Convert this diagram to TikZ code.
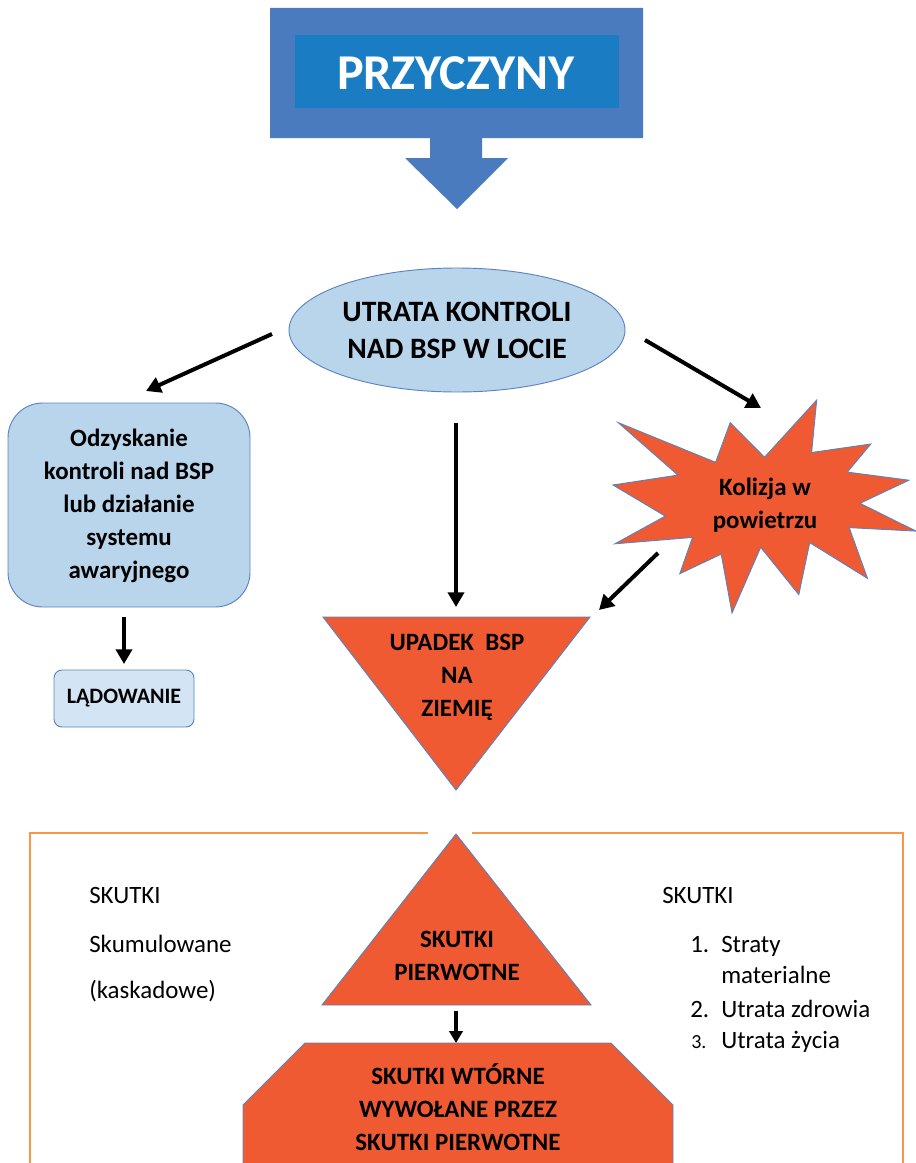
\documentclass[tikz,border=0pt]{standalone}
\usepackage{fontspec}
\setmainfont{Carlito}
\usetikzlibrary{arrows.meta,shapes.geometric}

\definecolor{hdrouter}{HTML}{4A7BBE}
\definecolor{hdrinner}{HTML}{1A7DC3}
\definecolor{paleblue}{HTML}{B8D5EC}
\definecolor{paleblue2}{HTML}{D3E5F4}
\definecolor{edgeblue}{HTML}{5B84BF}
\definecolor{hotred}{HTML}{EF5A32}
\definecolor{frameorange}{HTML}{F79646}

\tikzset{
  boldlbl/.style={align=center, font=\bfseries\fontsize{18.7}{24.75}\selectfont, text=black, inner sep=0pt},
  plainlbl/.style={font=\fontsize{18.7}{24}\selectfont, text=black, inner sep=0pt},
  flowarrow/.style={line width=3pt, -{Triangle[length=11pt,width=12pt]}},
  shortarrow/.style={line width=2.4pt, -{Triangle[length=9pt,width=10pt]}},
  hotshape/.style={fill=hotred, draw=edgeblue, line width=0.7pt, line join=miter},
}

\begin{document}
\begin{tikzpicture}[x=0.75pt, y=-0.75pt]
\useasboundingbox (0,0) rectangle (916,1163);

% header block with downward arrow
\fill[hdrouter] (270,8) -- (643,8) -- (643,138) -- (482,138) -- (482,158) -- (508,158)
  -- (457,209) -- (405,158) -- (430,158) -- (430,138) -- (270,138) -- cycle;
\fill[hdrinner] (295,35) rectangle (619,108);
\node[font=\bfseries\fontsize{37.6}{40}\selectfont, text=white, inner sep=0pt] (przyczyny) at (456,73) {PRZYCZYNY};

% central event
\node[ellipse, fill=paleblue, draw=edgeblue, line width=0.7pt,
      minimum width=252pt, minimum height=93pt, inner sep=0pt,
      align=center, font=\bfseries\fontsize{22.2}{27.75}\selectfont] (utrata) at (457,330)
      {UTRATA KONTROLI\\NAD BSP W LOCIE};

% recovery branch
\node[rounded corners=26pt, fill=paleblue, draw=edgeblue, line width=0.7pt,
      minimum width=181.5pt, minimum height=153pt, inner sep=0pt] (odzysk) at (129,505) {};
\node[boldlbl] (odzysktxt) at (129,506)
      {Odzyskanie\\kontroli nad BSP\\lub działanie\\systemu\\awaryjnego};
\node[rounded corners=6pt, fill=paleblue2, draw=edgeblue, line width=0.7pt,
      minimum width=105pt, minimum height=42.75pt, inner sep=0pt,
      font=\bfseries\fontsize{16.5}{20}\selectfont] (ladowanie) at (124,698.5) {LĄDOWANIE};

% mid-air collision (explosion outline)
\path[hotshape] (764.5,457.2) -- (816.7,400) -- (811.6,452.5) -- (870.8,444.0)
  -- (847.3,472.1) -- (908.9,480.2) -- (860.0,503.3) -- (916,531.1)
  -- (849.2,527.6) -- (867.5,578.4) -- (809.7,542.6) -- (798.8,594.6)
  -- (760.7,547.3) -- (732.0,613) -- (721.2,554.1) -- (679.8,573.7)
  -- (692.5,537.4) -- (614.9,543.8) -- (665.2,516.1) -- (613,485.0)
  -- (677.9,475.1) -- (618.2,422.6) -- (715.6,462.3) -- (730.2,422.6) -- cycle;
\node[boldlbl] (kolizja) at (765,505) {Kolizja w\\powietrzu};

% fall to the ground
\path[hotshape] (323,617) -- (590,617) -- (456,790) -- cycle;
\node[boldlbl] (upadek) at (457,677) {UPADEK~~BSP\\NA\\ZIEMIĘ};

% consequences frame
\draw[frameorange, line width=1.6pt] (30,1163) -- (30,833) -- (428,833);
\draw[frameorange, line width=1.6pt] (472,833) -- (903,833) -- (903,1163);

\path[hotshape] (456,834) -- (591,1005) -- (322,1005) -- cycle;
\node[boldlbl] (pierwotne) at (457,956) {SKUTKI\\PIERWOTNE};

\fill[hotred] (305,1043) -- (611,1043) -- (673,1105) -- (673,1163) -- (243,1163) -- (243,1105) -- cycle;
\draw[edgeblue, line width=0.7pt] (243,1163) -- (243,1105) -- (305,1043) -- (611,1043) -- (673,1105) -- (673,1163);
\node[boldlbl] (wtorne) at (458,1107) {SKUTKI WTÓRNE\\WYWOŁANE PRZEZ\\SKUTKI PIERWOTNE};

% side notes
\node[plainlbl, anchor=base west] (lsk) at (89,903) {SKUTKI};
\node[plainlbl, anchor=base west] (lskum) at (89,952) {Skumulowane};
\node[plainlbl, anchor=base west] (lkask) at (89,998) {(kaskadowe)};

\node[plainlbl, anchor=base west] (rsk) at (662,903) {SKUTKI};
\node[plainlbl, anchor=base west] (n1) at (690,952) {1.};
\node[plainlbl, anchor=base west] (i1) at (721,952) {Straty};
\node[plainlbl, anchor=base west] (i1b) at (721,983) {materialne};
\node[plainlbl, anchor=base west] (n2) at (690,1017) {2.};
\node[plainlbl, anchor=base west] (i2) at (721,1017) {Utrata zdrowia};
\node[plainlbl, anchor=base west, font=\fontsize{15}{18}\selectfont] (n3) at (691,1048) {3.};
\node[plainlbl, anchor=base west] (i3) at (721,1048) {Utrata życia};

% connector end points
\coordinate (aLs) at (272,334);  \coordinate (aLe) at (146,391);
\coordinate (aCs) at (456,423);  \coordinate (aCe) at (456,607);
\coordinate (aRs) at (645,340);  \coordinate (aRe) at (761,408);
\coordinate (aKs) at (658,553);  \coordinate (aKe) at (599,610);
\coordinate (aDs) at (124,617);  \coordinate (aDe) at (124,664);
\coordinate (aPs) at (456,1011); \coordinate (aPe) at (456,1043);

\draw[flowarrow] (aLs) -- (aLe);
\draw[flowarrow] (aCs) -- (aCe);
\draw[flowarrow] (aRs) -- (aRe);
\draw[flowarrow] (aKs) -- (aKe);
\draw[flowarrow] (aDs) -- (aDe);
\draw[shortarrow] (aPs) -- (aPe);
\end{tikzpicture}
\end{document}
